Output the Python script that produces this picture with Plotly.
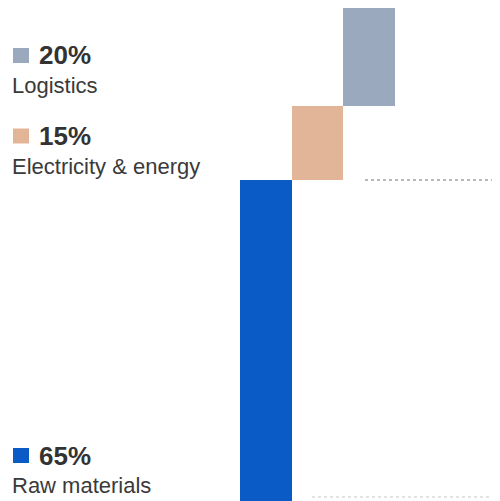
import plotly.graph_objects as go

categories = ["Raw materials", "Electricity & energy", "Logistics"]
values = [65, 15, 20]
colors = ["#0a5bc6", "#e2b598", "#9ba9bf"]
pct_labels = ["65%", "15%", "20%"]

# page body has an 8px margin; figure coordinates are shifted to compensate
OFF = 8
W, H = 508 - OFF, 501 - OFF


def px(x):
    return (x - OFF) / W


def py(y):
    return 1 - (y - OFF) / H


bases = []
acc = 0
for v in values:
    bases.append(acc)
    acc += v

fig = go.Figure()
fig.add_trace(go.Bar(
    x=list(range(len(categories))),
    y=values,
    base=bases,
    width=1,
    marker=dict(color=colors, line=dict(width=0)),
    hoverinfo="skip",
    showlegend=False,
))

label_centers = {"Logistics": 55.5, "Electricity & energy": 136, "Raw materials": 455.5}
for cat, pct, col in zip(categories, pct_labels, colors):
    cy = label_centers[cat]
    fig.add_shape(type="rect", xref="paper", yref="paper",
                  x0=px(13), x1=px(29), y0=py(cy + 7.5), y1=py(cy - 7.5),
                  fillcolor=col, line=dict(width=0))
    fig.add_annotation(xref="paper", yref="paper", x=px(37), y=py(cy),
                       xanchor="left", yanchor="middle", showarrow=False,
                       text="<b>%s</b>" % pct,
                       font=dict(family="Liberation Sans, Arial", size=26, color="#333333"))
    fig.add_annotation(xref="paper", yref="paper", x=px(10), y=py(cy + 30),
                       xanchor="left", yanchor="middle", showarrow=False,
                       text=cat,
                       font=dict(family="Liberation Sans, Arial", size=22, color="#3a3a3a"))

fig.add_shape(type="line", xref="paper", yref="y", x0=px(365), x1=1,
              y0=values[0], y1=values[0],
              line=dict(color="#b8b8b8", width=2, dash="dot"))
fig.add_shape(type="line", xref="paper", yref="paper", x0=px(312), x1=1,
              y0=py(497), y1=py(497),
              line=dict(color="#e2e2e2", width=2, dash="dot"))

ppu = 51.6
x0 = -0.5 - (240 - OFF) / ppu
x1 = x0 + W / ppu
ppv = 4.94
fig.update_layout(
    width=W, height=H,
    margin=dict(l=0, r=0, t=0, b=0),
    paper_bgcolor="white", plot_bgcolor="white",
    xaxis=dict(range=[x0, x1], visible=False, fixedrange=True),
    yaxis=dict(range=[(H - (501 - OFF)) / ppv, H / ppv], visible=False, fixedrange=True),
    bargap=0,
)
fig.write_html("out.html")
